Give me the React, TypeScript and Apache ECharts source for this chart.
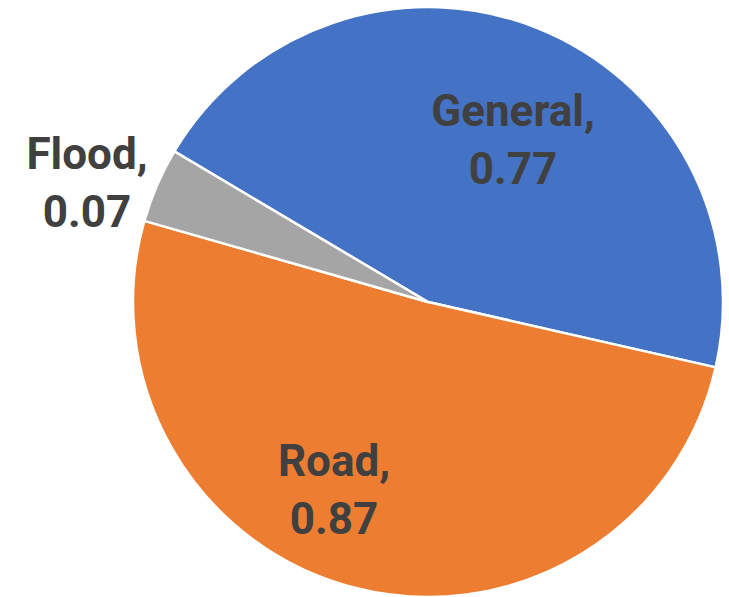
import React, { useEffect, useRef } from "react";
import * as echarts from "echarts";

const categories = ["General", "Road", "Flood"];
const values = [0.77, 0.87, 0.07];
const colors = ["#4472C4", "#ED7D31", "#A5A5A5"];
const labelAnchors = [
  [513, 140],
  [334, 490],
  [87, 183],
];

export default function App() {
  const ref = useRef<HTMLDivElement>(null);
  useEffect(() => {
    if (!ref.current) return;
    const chart = echarts.init(ref.current, undefined, { renderer: "svg" });
    chart.setOption({
      animation: false,
      backgroundColor: "#ffffff",
      series: [
        {
          type: "pie",
          center: [428, 302],
          radius: 295,
          startAngle: 149.3,
          clockwise: true,
          avoidLabelOverlap: false,
          itemStyle: { borderColor: "#ffffff", borderWidth: 2.5 },
          label: {
            show: true,
            position: "inside",
            formatter: (p: any) => `${p.name},\n${p.value.toFixed(2)}`,
            fontFamily: "Roboto",
            fontWeight: "bold",
            fontSize: 44,
            lineHeight: 58,
            color: "#404040",
            align: "center",
          },
          labelLine: { show: false },
          labelLayout: (params: any) => {
            const a = labelAnchors[params.dataIndex];
            return { x: a[0], y: a[1], align: "center", verticalAlign: "middle" };
          },
          data: categories.map((name, i) => ({
            name,
            value: values[i],
            itemStyle: { color: colors[i] },
            label: i === 2 ? { position: "outside" } : undefined,
          })),
        },
      ],
    });
    return () => chart.dispose();
  }, []);
  return (
    <div
      ref={ref}
      style={{ position: "fixed", left: 0, top: 0, width: 729, height: 597 }}
    />
  );
}
